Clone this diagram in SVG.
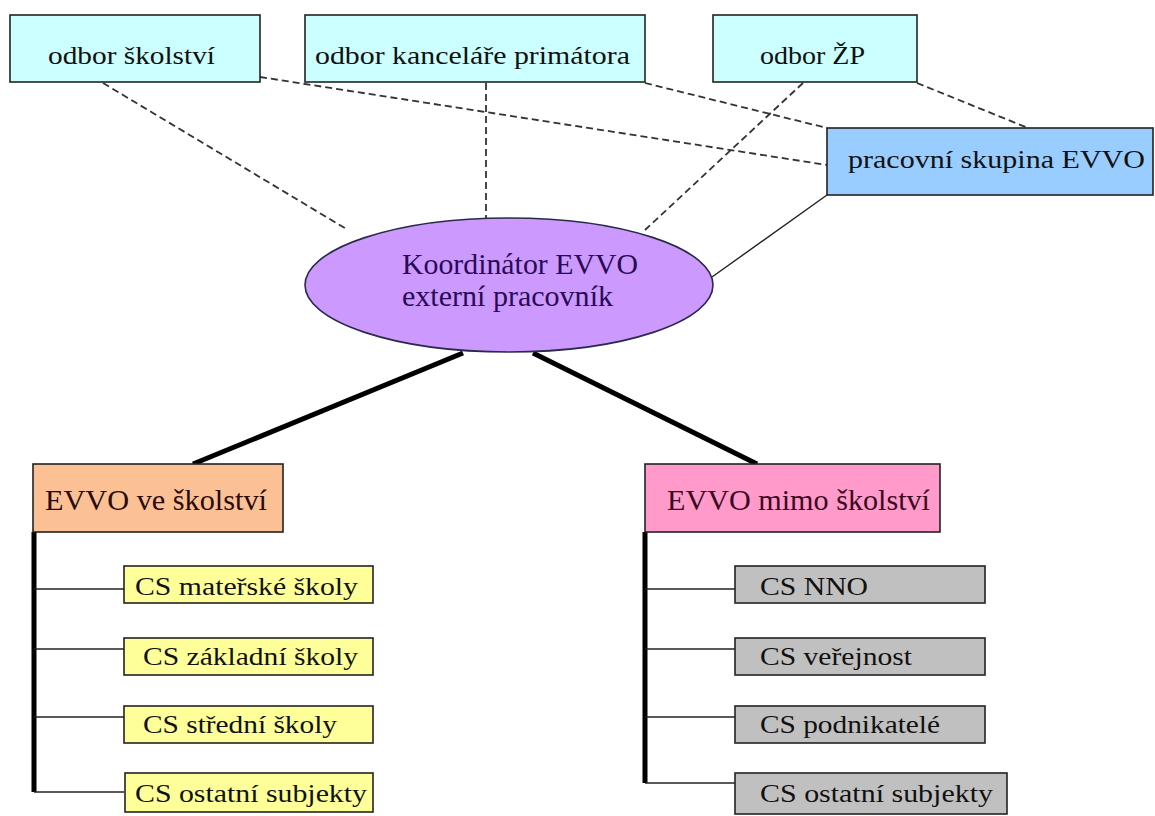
<svg xmlns="http://www.w3.org/2000/svg" width="1155" height="816" viewBox="0 0 1155 816">
<style>
text{font-family:"Liberation Serif","DejaVu Serif",serif;}
.box{stroke:#222;stroke-width:1.6;}
.top{fill:#CCFFFF;}
.t{font-size:26px;fill:#111;}
.dash{stroke:#333;stroke-width:1.8;stroke-dasharray:7 4;fill:none;}
.thin{stroke:#222;stroke-width:1.4;fill:none;}
.thick{stroke:#000;stroke-width:5;fill:none;}
.yel{fill:#FFFF99;}
.gry{fill:#C0C0C0;}
.ct{font-size:26px;fill:#111;}
</style>
<rect width="1155" height="816" fill="#fff"/>
<g id="connectors">
<line class="dash" x1="103" y1="83" x2="348" y2="230"/>
<line class="dash" x1="260" y1="77" x2="827" y2="165"/>
<line class="dash" x1="645" y1="83" x2="827" y2="128"/>
<line class="dash" x1="486" y1="83" x2="486" y2="218"/>
<line class="dash" x1="803" y1="83" x2="645" y2="230"/>
<line class="dash" x1="917" y1="83" x2="1028" y2="128"/>
<line class="thin" x1="712" y1="277" x2="827" y2="195"/>
<line class="thick" x1="463" y1="353" x2="193" y2="464"/>
<line class="thick" x1="533" y1="353" x2="757" y2="464"/>
<line class="thick" x1="34" y1="532" x2="34" y2="792"/>
<line class="thin" x1="34" y1="589" x2="124" y2="589"/>
<line class="thin" x1="34" y1="649" x2="124" y2="649"/>
<line class="thin" x1="34" y1="717" x2="124" y2="717"/>
<line class="thin" x1="34" y1="792" x2="124" y2="792"/>
<line class="thick" x1="645" y1="532" x2="645" y2="783"/>
<line class="thin" x1="645" y1="589" x2="735" y2="589"/>
<line class="thin" x1="645" y1="649" x2="735" y2="649"/>
<line class="thin" x1="645" y1="717" x2="735" y2="717"/>
<line class="thin" x1="645" y1="783" x2="735" y2="783"/>
</g>
<g id="odbor-skolstvi">
<rect class="box top" x="10" y="15" width="250" height="67"/>
<text class="t" x="48" y="64" textLength="167" lengthAdjust="spacingAndGlyphs">odbor školství</text>
</g>
<g id="odbor-kancelare">
<rect class="box top" x="305" y="15" width="340" height="67"/>
<text class="t" x="315" y="64" textLength="315" lengthAdjust="spacingAndGlyphs">odbor kanceláře primátora</text>
</g>
<g id="odbor-zp">
<rect class="box top" x="713" y="15" width="204" height="67"/>
<text class="t" x="760" y="64" textLength="105" lengthAdjust="spacingAndGlyphs">odbor ŽP</text>
</g>
<g id="pracovni-skupina">
<rect class="box" fill="#99CCFF" x="827" y="128" width="326" height="67"/>
<text class="t" x="848" y="168" textLength="297" lengthAdjust="spacingAndGlyphs" fill="#0a0a40">pracovní skupina EVVO</text>
</g>
<g id="koordinator">
<ellipse cx="509" cy="285" rx="204" ry="67" fill="#CC99FF" stroke="#2a2a4a" stroke-width="1.6"/>
<text x="402" y="274" font-size="29" fill="#2a0a55" textLength="236" lengthAdjust="spacingAndGlyphs">Koordinátor EVVO</text>
<text x="402" y="306" font-size="29" fill="#2a0a55" textLength="211" lengthAdjust="spacingAndGlyphs">externí pracovník</text>
</g>
<g id="evvo-ve-skolstvi">
<rect class="box" fill="#FBC195" x="33" y="464" width="250" height="68"/>
<text x="45" y="510" font-size="29" fill="#2a0a0a" textLength="222" lengthAdjust="spacingAndGlyphs">EVVO ve školství</text>
</g>
<g id="evvo-mimo-skolstvi">
<rect class="box" fill="#FF9ACB" x="645" y="464" width="295" height="68"/>
<text x="667" y="510" font-size="29" fill="#3a0a20" textLength="263" lengthAdjust="spacingAndGlyphs">EVVO mimo školství</text>
</g>
<g id="cs-materske">
<rect class="box yel" x="124" y="566" width="249" height="37"/>
<text class="ct" x="135" y="595" textLength="223" lengthAdjust="spacingAndGlyphs">CS mateřské školy</text>
</g>
<g id="cs-zakladni">
<rect class="box yel" x="124" y="638" width="249" height="37"/>
<text class="ct" x="143" y="665" textLength="215" lengthAdjust="spacingAndGlyphs">CS základní školy</text>
</g>
<g id="cs-stredni">
<rect class="box yel" x="124" y="706" width="249" height="37"/>
<text class="ct" x="143" y="733" textLength="194" lengthAdjust="spacingAndGlyphs">CS střední školy</text>
</g>
<g id="cs-ostatni-1">
<rect class="box yel" x="125" y="773" width="248" height="39"/>
<text class="ct" x="135" y="802" textLength="232" lengthAdjust="spacingAndGlyphs">CS ostatní subjekty</text>
</g>
<g id="cs-nno">
<rect class="box gry" x="735" y="566" width="250" height="37"/>
<text class="ct" x="760" y="595" textLength="108" lengthAdjust="spacingAndGlyphs">CS NNO</text>
</g>
<g id="cs-verejnost">
<rect class="box gry" x="735" y="638" width="250" height="37"/>
<text class="ct" x="760" y="665" textLength="152" lengthAdjust="spacingAndGlyphs">CS veřejnost</text>
</g>
<g id="cs-podnikatele">
<rect class="box gry" x="735" y="706" width="250" height="37"/>
<text class="ct" x="760" y="733" textLength="180" lengthAdjust="spacingAndGlyphs">CS podnikatelé</text>
</g>
<g id="cs-ostatni-2">
<rect class="box gry" x="735" y="773" width="272" height="41"/>
<text class="ct" x="760" y="802" textLength="233" lengthAdjust="spacingAndGlyphs">CS ostatní subjekty</text>
</g>
</svg>
